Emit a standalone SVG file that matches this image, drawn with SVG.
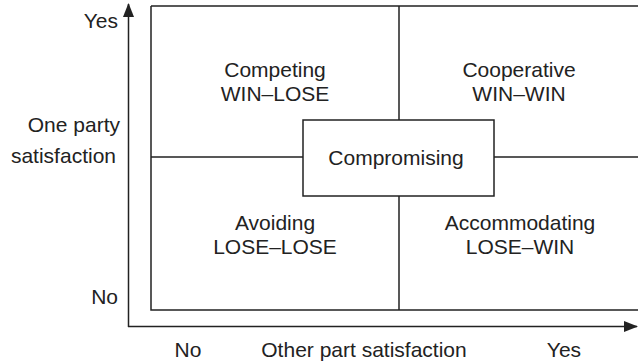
<svg xmlns="http://www.w3.org/2000/svg" width="638" height="363" viewBox="0 0 638 363">
  <style>
    .ln { stroke: #222; stroke-width: 1.5; fill: none; }
    .box { stroke: #222; stroke-width: 1.5; fill: #fff; }
    text { font-family: "Liberation Sans", Arial, sans-serif; font-size: 21px; fill: #222; }
    .c { text-anchor: middle; }
    .r { text-anchor: end; }
  </style>
  <defs>
    <marker id="arrow" viewBox="0 0 14 11" refX="13" refY="5.5" markerWidth="14" markerHeight="11" markerUnits="userSpaceOnUse" orient="auto">
      <path d="M0,0 L14,5.5 L0,11 Z" fill="#222"/>
    </marker>
  </defs>
  <rect width="638" height="363" fill="#fff"/>

  <!-- axes -->
  <g id="axes">
    <path class="ln" d="M128.5,327 L128.5,4" marker-end="url(#arrow)"/>
    <path class="ln" d="M128,326.5 L637,326.5" marker-end="url(#arrow)"/>
  </g>

  <!-- outer frame and quadrant dividers -->
  <g id="connectors">
    <path class="ln" d="M151,6 L640,6 M151,6 L151,310 L640,310"/>
    <path class="ln" d="M399,6 L399,120 M399,196 L399,310"/>
    <path class="ln" d="M151,157 L303,157 M494,157 L640,157"/>
  </g>

  <g id="competing">
    <text class="c" x="275" y="77">Competing</text>
    <text class="c" x="275" y="101">WIN–LOSE</text>
  </g>
  <g id="cooperative">
    <text class="c" x="519" y="77">Cooperative</text>
    <text class="c" x="519" y="101">WIN–WIN</text>
  </g>
  <g id="avoiding">
    <text class="c" x="275" y="230">Avoiding</text>
    <text class="c" x="275" y="254">LOSE–LOSE</text>
  </g>
  <g id="accommodating">
    <text class="c" x="520" y="230">Accommodating</text>
    <text class="c" x="520" y="254">LOSE–WIN</text>
  </g>
  <g id="compromising">
    <rect class="box" x="303" y="120" width="191" height="76"/>
    <text class="c" x="396" y="165">Compromising</text>
  </g>

  <!-- axis labels -->
  <g id="labels">
    <text class="r" x="118" y="28">Yes</text>
    <text class="r" x="120" y="132">One party</text>
    <text class="r" x="116" y="163">satisfaction</text>
    <text class="r" x="118" y="304">No</text>
    <text class="c" x="188" y="357">No</text>
    <text class="c" x="364" y="357">Other part satisfaction</text>
    <text class="c" x="564" y="357">Yes</text>
  </g>
</svg>
